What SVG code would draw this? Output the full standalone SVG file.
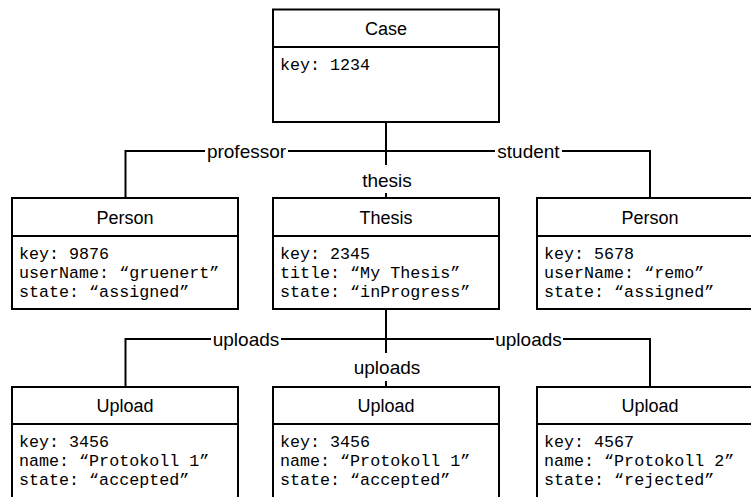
<svg xmlns="http://www.w3.org/2000/svg" width="751" height="497" viewBox="0 0 751 497">
  <style>
    .box { fill: #fff; stroke: #000; stroke-width: 2; }
    .div { stroke: #000; stroke-width: 2; }
    .head { font-family: "Liberation Sans", Arial, sans-serif; font-size: 18px; fill: #000; text-anchor: middle; }
    .attr { font-family: "Liberation Mono", "DejaVu Sans Mono", monospace; font-size: 16.7px; fill: #000; }
    .lbl { font-family: "Liberation Sans", Arial, sans-serif; font-size: 19px; fill: #000; text-anchor: middle; }
    .con { fill: none; stroke: #000; stroke-width: 2; }
  </style>
  <rect width="751" height="497" fill="#fff"/>

  <!-- connectors -->
  <g id="connectors">
    <path class="con" d="M125.5 198 V151 H205 M288 151 H495 M562 151 H650 V198"/>
    <path class="con" d="M386 122 V165 M386 193 V198"/>
    <path class="con" d="M125.5 387 V339 H211 M281 339 H494 M563 339 H650 V387"/>
    <path class="con" d="M386 310 V353 M386 381 V387"/>
    <text class="lbl" x="246.5" y="157.5">professor</text>
    <text class="lbl" x="528.5" y="157.5">student</text>
    <text class="lbl" x="387" y="186.5">thesis</text>
    <text class="lbl" x="246" y="345.5">uploads</text>
    <text class="lbl" x="528.5" y="345.5">uploads</text>
    <text class="lbl" x="387" y="374">uploads</text>
  </g>

  <!-- Case -->
  <g id="case">
    <rect class="box" x="273" y="9.5" width="226" height="112.5"/>
    <line class="div" x1="273" y1="47" x2="499" y2="47"/>
    <text class="head" x="386" y="34.5">Case</text>
    <text class="attr" x="280" y="70">key: 1234</text>
  </g>

  <!-- Person (professor) -->
  <g id="person-professor">
    <rect class="box" x="12" y="198" width="226" height="111"/>
    <line class="div" x1="12" y1="236" x2="238" y2="236"/>
    <text class="head" x="125" y="223.5">Person</text>
    <text class="attr" x="19" y="259">key: 9876</text>
    <text class="attr" x="19" y="278">userName: “gruenert”</text>
    <text class="attr" x="19" y="297">state: “assigned”</text>
  </g>

  <!-- Thesis -->
  <g id="thesis">
    <rect class="box" x="273" y="198" width="226" height="111"/>
    <line class="div" x1="273" y1="236" x2="499" y2="236"/>
    <text class="head" x="386" y="223.5">Thesis</text>
    <text class="attr" x="280" y="259">key: 2345</text>
    <text class="attr" x="280" y="278">title: “My Thesis”</text>
    <text class="attr" x="280" y="297">state: “inProgress”</text>
  </g>

  <!-- Person (student) -->
  <g id="person-student">
    <rect class="box" x="537" y="198" width="226" height="111"/>
    <line class="div" x1="537" y1="236" x2="763" y2="236"/>
    <text class="head" x="650" y="223.5">Person</text>
    <text class="attr" x="544" y="259">key: 5678</text>
    <text class="attr" x="544" y="278">userName: “remo”</text>
    <text class="attr" x="544" y="297">state: “assigned”</text>
  </g>

  <!-- Uploads -->
  <g id="upload-1">
    <rect class="box" x="12" y="387" width="226" height="120"/>
    <line class="div" x1="12" y1="424" x2="238" y2="424"/>
    <text class="head" x="125" y="411.5">Upload</text>
    <text class="attr" x="19" y="447">key: 3456</text>
    <text class="attr" x="19" y="466">name: “Protokoll 1”</text>
    <text class="attr" x="19" y="485">state: “accepted”</text>
  </g>

  <g id="upload-2">
    <rect class="box" x="273" y="387" width="226" height="120"/>
    <line class="div" x1="273" y1="424" x2="499" y2="424"/>
    <text class="head" x="386" y="411.5">Upload</text>
    <text class="attr" x="280" y="447">key: 3456</text>
    <text class="attr" x="280" y="466">name: “Protokoll 1”</text>
    <text class="attr" x="280" y="485">state: “accepted”</text>
  </g>

  <g id="upload-3">
    <rect class="box" x="537" y="387" width="226" height="120"/>
    <line class="div" x1="537" y1="424" x2="763" y2="424"/>
    <text class="head" x="650" y="411.5">Upload</text>
    <text class="attr" x="544" y="447">key: 4567</text>
    <text class="attr" x="544" y="466">name: “Protokoll 2”</text>
    <text class="attr" x="544" y="485">state: “rejected”</text>
  </g>
</svg>
